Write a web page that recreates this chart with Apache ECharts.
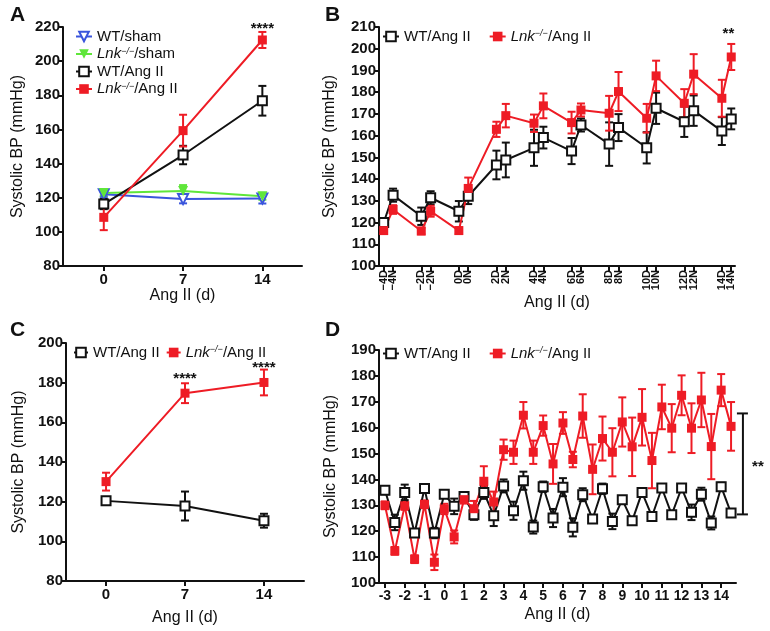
<!DOCTYPE html>
<html><head><meta charset="utf-8">
<script src="https://cdn.jsdelivr.net/npm/echarts@6/dist/echarts.min.js"></script>
<style>html,body{margin:0;padding:0;background:#fff}#c{width:770px;height:631px}</style>
</head><body><div id="c"></div>
<script>
// ---------- Panel A ----------
const aDays = [0, 7, 14];
const aWtSham = [122, 119.2, 119.6];
const aWtShamErr = [1.5, 2.5, 3];
const aLnkSham = [122.8, 123.9, 120.8];
const aLnkShamErr = [1.5, 3.5, 2];
const aWtAng = [116.3, 145, 176.8];
const aWtAngErr = [3, 5.4, 8.7];
const aLnkAng = [108.5, 159.3, 212.4];
const aLnkAngErr = [7.5, 9.3, 4.7];
const aYTicks = [80, 220, 20];
// ---------- Panel B ----------
const bDays = [-4, -3.5, -2, -1.5, 0, 0.5, 2, 2.5, 4, 4.5, 6, 6.5, 8, 8.5, 10, 10.5, 12, 12.5, 14, 14.5];
const bLabels = ['\u22124D','\u22124N','\u22122D','\u22122N','0D','0N','2D','2N','4D','4N','6D','6N','8D','8N','10D','10N','12D','12N','14D','14N'];
const bWt = [120, 132.6, 122.9, 131.4, 125.2, 132.1, 146.5, 148.8, 154.4, 159.1, 152.9, 164.9, 156.1, 163.7, 154.4, 172.6, 166.4, 171.5, 162.1, 167.7];
const bWtErr = [2, 3, 4, 3, 4.7, 3.6, 6.6, 8, 8.3, 5, 6, 3, 10, 6.2, 7.2, 7.2, 7, 7, 6.4, 4.8];
const bLnk = [116.3, 126, 116.1, 125.2, 116.3, 135.7, 162.9, 169.2, 165.7, 173.7, 166, 171.8, 170.3, 180.3, 168, 187.5, 174.9, 188.3, 177.2, 196.2];
const bLnkErr = [1.5, 2, 1.5, 2.5, 1.5, 5, 3.5, 5.4, 4, 5.7, 5, 3, 8, 9, 6.6, 7, 6.5, 9.2, 8.5, 6];
// ---------- Panel C ----------
const cDays = [0, 7, 14];
const cWt = [120.4, 117.8, 110.4];
const cWtErr = [1, 7.3, 3.5];
const cLnk = [130.1, 174.7, 180.1];
const cLnkErr = [4.5, 5, 6.5];
// ---------- Panel D ----------
const dDays = [-3, -2.5, -2, -1.5, -1, -0.5, 0, 0.5, 1, 1.5, 2, 2.5, 3, 3.5, 4, 4.5, 5, 5.5, 6, 6.5, 7, 7.5, 8, 8.5, 9, 9.5, 10, 10.5, 11, 11.5, 12, 12.5, 13, 13.5, 14, 14.5];
const dTicks = [-3, -2, -1, 0, 1, 2, 3, 4, 5, 6, 7, 8, 9, 10, 11, 12, 13, 14];
const dWt = [135.8, 123.4, 135, 119.3, 136.5, 119.3, 134.3, 129.6, 133.4, 126.4, 135, 126, 137.5, 127.9, 139.5, 121.6, 137.2, 125.1, 137, 121.5, 134.1, 124.7, 136.4, 123.8, 132.2, 124, 135, 125.7, 136.7, 126.4, 136.7, 127.3, 134.3, 123.2, 137.2, 127];
const dWtErr = [1.5, 3, 3, 1.5, 1.5, 2, 1.5, 3, 1.5, 2, 2.5, 4, 2.5, 3.5, 3.5, 2.5, 2, 3.5, 3.5, 3.5, 2.5, 1.5, 2, 3, 1, 1, 1.5, 1.5, 1, 1, 1, 3, 2.5, 2.5, 1.5, 1];
const dLnk = [130, 112.4, 129.8, 109.2, 130.4, 108, 128.6, 117.8, 132.2, 128.7, 139.3, 131.3, 151.5, 150.5, 164.8, 150.5, 160.8, 146, 161.8, 147.7, 164.5, 143.9, 155.8, 150.5, 162.2, 152.6, 164, 147.3, 168, 159.8, 172.5, 159.8, 170.7, 152.7, 174.5, 160.5];
const dLnkErr = [1.5, 1.5, 1.5, 1.5, 1.5, 3, 2, 2.5, 1.5, 3, 5.8, 4, 3.9, 4.5, 5.1, 4.5, 3.9, 7.7, 4.2, 3, 8.4, 9.6, 8.5, 9.3, 9.5, 11.3, 10.9, 10.7, 8.6, 9.3, 7.7, 9.6, 10.5, 12.6, 6.2, 9.4];
const dBracket = [126.5, 165.5];

const FONT = '"Liberation Sans", Arial, Helvetica, sans-serif';
const BLACK = '#111111', RED = '#ee1c25', BLUE = '#3a55dc', GREEN = '#5fe63a';
const N_WT_SHAM = 'WT/sham', N_LNK_SHAM = 'Lnk/sham', N_WT = 'WT/Ang II', N_LNK = 'Lnk/Ang II';

function pairs(xs, ys) { return xs.map((x, i) => [x, ys[i]]); }
function errData(xs, ys, es) { return xs.map((x, i) => [x, ys[i] - es[i], ys[i] + es[i]]); }

function errSeries(idx, xs, ys, es, color) {
  return {
    type: 'custom', xAxisIndex: idx, yAxisIndex: idx, z: 1, silent: true,
    data: errData(xs, ys, es),
    renderItem: function (params, api) {
      const x = api.value(0), lo = api.value(1), hi = api.value(2);
      const p1 = api.coord([x, hi]), p2 = api.coord([x, lo]);
      const w = 4;
      const st = { stroke: color, lineWidth: 2 };
      return { type: 'group', children: [
        { type: 'line', shape: { x1: p1[0], y1: p1[1], x2: p2[0], y2: p2[1] }, style: st },
        { type: 'line', shape: { x1: p1[0] - w, y1: p1[1], x2: p1[0] + w, y2: p1[1] }, style: st },
        { type: 'line', shape: { x1: p2[0] - w, y1: p2[1], x2: p2[0] + w, y2: p2[1] }, style: st }
      ]};
    }
  };
}
function lineSeries(idx, name, xs, ys, kind) {
  const s = { type: 'line', name: name, xAxisIndex: idx, yAxisIndex: idx, z: 3,
    data: pairs(xs, ys), symbolSize: 9, lineStyle: { width: 2 }, animation: false };
  if (kind === 'wt') { s.symbol = 'rect'; s.itemStyle = { color: '#fff', borderColor: BLACK, borderWidth: 2 }; s.lineStyle.color = BLACK; }
  if (kind === 'lnk') { s.symbol = 'rect'; s.itemStyle = { color: RED, borderColor: RED, borderWidth: 0 }; s.lineStyle.color = RED; }
  if (kind === 'wtsham') { s.symbol = 'triangle'; s.symbolRotate = 180; s.symbolSize = 10; s.itemStyle = { color: '#fff', borderColor: BLUE, borderWidth: 2 }; s.lineStyle.color = BLUE; }
  if (kind === 'lnksham') { s.symbol = 'triangle'; s.symbolRotate = 180; s.symbolSize = 10; s.itemStyle = { color: GREEN, borderColor: GREEN, borderWidth: 0 }; s.lineStyle.color = GREEN; }
  return s;
}
function sigSeries(idx, pts, texts) {
  return { type: 'custom', xAxisIndex: idx, yAxisIndex: idx, z: 5, silent: true, clip: false,
    data: pts,
    renderItem: function (params, api) {
      const p = api.coord([api.value(0), api.value(1)]);
      return { type: 'text', x: p[0], y: p[1], style: { text: texts[params.dataIndex], font: 'bold 15px ' + FONT, fill: BLACK, align: 'center', verticalAlign: 'middle' } };
    } };
}

const legendRich = {
  i: { fontStyle: 'italic', fontSize: 15, fontFamily: FONT, color: BLACK, lineHeight: 15 },
  s: { fontStyle: 'italic', fontSize: 9, fontFamily: FONT, color: BLACK, verticalAlign: 'top', lineHeight: 15 },
  n: { fontSize: 15, fontFamily: FONT, color: BLACK, lineHeight: 15 }
};
function legendFmt(name) {
  if (name.indexOf('Lnk') === 0) return '{i|Lnk}{s|\u2212/\u2212}{n|' + name.slice(3) + '}';
  return '{n|' + name + '}';
}
function legend(opts) {
  return Object.assign({ itemWidth: 14, itemHeight: 12, textStyle: { fontSize: 15, fontFamily: FONT, color: BLACK, rich: legendRich }, formatter: legendFmt, selectedMode: false }, opts);
}

const axisLineS = { show: true, onZero: false, lineStyle: { color: BLACK, width: 2 } };
const tickS = { show: true, length: 5, lineStyle: { color: BLACK, width: 2 } };
function yAxis(idx, min, max, interval, gap) {
  return { type: 'value', gridIndex: idx, min: min, max: max, interval: interval,
    name: 'Systolic BP (mmHg)', nameLocation: 'middle', nameGap: gap, nameRotate: 90,
    nameTextStyle: { fontSize: 16, fontFamily: FONT, color: BLACK },
    axisLine: axisLineS, axisTick: tickS, splitLine: { show: false },
    axisLabel: { fontSize: 15, fontWeight: 'bold', fontFamily: FONT, color: BLACK, margin: 3 } };
}
function xAxis(idx, min, max, ticks, gap, labelOpts) {
  return { type: 'value', gridIndex: idx, min: min, max: max,
    name: 'Ang II (d)', nameLocation: 'middle', nameGap: gap,
    nameTextStyle: { fontSize: 16, fontFamily: FONT, color: BLACK },
    axisLine: axisLineS, axisTick: Object.assign({}, tickS, { customValues: ticks }), splitLine: { show: false },
    axisLabel: Object.assign({ customValues: ticks, fontSize: 15, fontWeight: 'bold', fontFamily: FONT, color: BLACK, margin: 6, hideOverlap: false, showMinLabel: true, showMaxLabel: true }, labelOpts || {}) };
}

// B tick labels are split across two axes (D and N) so neighbours never collide
const bDayD = bDays.filter((d, i) => bLabels[i].slice(-1) === 'D');
const bDayN = bDays.filter((d, i) => bLabels[i].slice(-1) === 'N');
function bFmt(v) { const i = bDays.indexOf(v); return i >= 0 ? bLabels[i] : ''; }
const bLabelOpts = { rotate: 90, fontSize: 11, margin: 4, formatter: bFmt };

const axB = xAxis(1, -4.25, 14.7, bDays, 28, Object.assign({}, bLabelOpts, { customValues: bDayD }));
const axBN = { type: 'value', gridIndex: 1, min: -4.25, max: 14.7, position: 'bottom',
  axisLine: { show: false, onZero: false }, axisTick: { show: false }, splitLine: { show: false },
  axisLabel: Object.assign({ customValues: bDayN, fontWeight: 'bold', fontFamily: FONT, color: BLACK, showMinLabel: true, showMaxLabel: true }, bLabelOpts) };

const option = {
  animation: false,
  textStyle: { fontFamily: FONT },
  grid: [
    { left: 63, top: 27, width: 239, height: 239 },
    { left: 379, top: 27, width: 356, height: 239 },
    { left: 66, top: 343, width: 238, height: 238 },
    { left: 379, top: 350, width: 357, height: 233 }
  ],
  xAxis: [
    xAxis(0, -3.6, 17.5, aDays, 22),
    axB,
    xAxis(2, -3.55, 17.55, cDays, 29),
    xAxis(3, -3.3, 14.75, dTicks, 24, { fontSize: 14 }),
    axBN
  ],
  yAxis: [
    yAxis(0, aYTicks[0], aYTicks[1], aYTicks[2], 37),
    yAxis(1, 100, 210, 10, 41),
    yAxis(2, 80, 200, 20, 39),
    yAxis(3, 100, 190, 10, 40)
  ],
  legend: [
    legend({ left: 70, top: 24, orient: 'vertical', itemGap: 2.5, itemWidth: 16, data: [N_WT_SHAM, N_LNK_SHAM, N_WT, N_LNK] }),
    legend({ left: 377, top: 24, orient: 'horizontal', itemGap: 18, itemWidth: 16, data: [N_WT, N_LNK] }),
    legend({ left: 68, top: 340, orient: 'horizontal', itemGap: 6, data: [N_WT, N_LNK] }),
    legend({ left: 377, top: 341, orient: 'horizontal', itemGap: 18, itemWidth: 16, data: [N_WT, N_LNK] })
  ],
  graphic: [
    { type: 'text', left: 10, top: 5, style: { text: 'A', font: 'bold 21px ' + FONT, fill: BLACK } },
    { type: 'text', left: 325, top: 5, style: { text: 'B', font: 'bold 21px ' + FONT, fill: BLACK } },
    { type: 'text', left: 10, top: 320, style: { text: 'C', font: 'bold 21px ' + FONT, fill: BLACK } },
    { type: 'text', left: 325, top: 320, style: { text: 'D', font: 'bold 21px ' + FONT, fill: BLACK } }
  ],
  series: [
    // A
    errSeries(0, aDays, aWtSham, aWtShamErr, BLUE),
    errSeries(0, aDays, aLnkSham, aLnkShamErr, GREEN),
    errSeries(0, aDays, aWtAng, aWtAngErr, BLACK),
    errSeries(0, aDays, aLnkAng, aLnkAngErr, RED),
    lineSeries(0, N_WT_SHAM, aDays, aWtSham, 'wtsham'),
    lineSeries(0, N_LNK_SHAM, aDays, aLnkSham, 'lnksham'),
    lineSeries(0, N_WT, aDays, aWtAng, 'wt'),
    lineSeries(0, N_LNK, aDays, aLnkAng, 'lnk'),
    sigSeries(0, [[14, 219]], ['****']),
    // B
    errSeries(1, bDays, bWt, bWtErr, BLACK),
    errSeries(1, bDays, bLnk, bLnkErr, RED),
    lineSeries(1, N_WT, bDays, bWt, 'wt'),
    lineSeries(1, N_LNK, bDays, bLnk, 'lnk'),
    sigSeries(1, [[14.35, 206.7]], ['**']),
    // C
    errSeries(2, cDays, cWt, cWtErr, BLACK),
    errSeries(2, cDays, cLnk, cLnkErr, RED),
    lineSeries(2, N_WT, cDays, cWt, 'wt'),
    lineSeries(2, N_LNK, cDays, cLnk, 'lnk'),
    sigSeries(2, [[7, 182], [14, 187.5]], ['****', '****']),
    // D
    errSeries(3, dDays, dWt, dWtErr, BLACK),
    errSeries(3, dDays, dLnk, dLnkErr, RED),
    lineSeries(3, N_WT, dDays, dWt, 'wt'),
    lineSeries(3, N_LNK, dDays, dLnk, 'lnk'),
    { type: 'custom', xAxisIndex: 3, yAxisIndex: 3, z: 5, silent: true, clip: false,
      data: [[15.1, dBracket[0], dBracket[1]]],
      renderItem: function (params, api) {
        const x = api.value(0);
        const p1 = api.coord([x, api.value(2)]), p2 = api.coord([x, api.value(1)]);
        const st = { stroke: BLACK, lineWidth: 2 };
        return { type: 'group', children: [
          { type: 'line', shape: { x1: p1[0], y1: p1[1], x2: p2[0], y2: p2[1] }, style: st },
          { type: 'line', shape: { x1: p1[0] - 6, y1: p1[1], x2: p1[0] + 5, y2: p1[1] }, style: st },
          { type: 'line', shape: { x1: p2[0] - 6, y1: p2[1], x2: p2[0] + 5, y2: p2[1] }, style: st },
          { type: 'text', x: p1[0] + 15, y: (p1[1] + p2[1]) / 2 + 3, style: { text: '**', font: 'bold 15px ' + FONT, fill: BLACK, align: 'center', verticalAlign: 'middle' } }
        ]};
      } }
  ]
};
const chart = echarts.init(document.getElementById('c'), null, { renderer: 'canvas' });
chart.setOption(option);
</script>
</body></html>
